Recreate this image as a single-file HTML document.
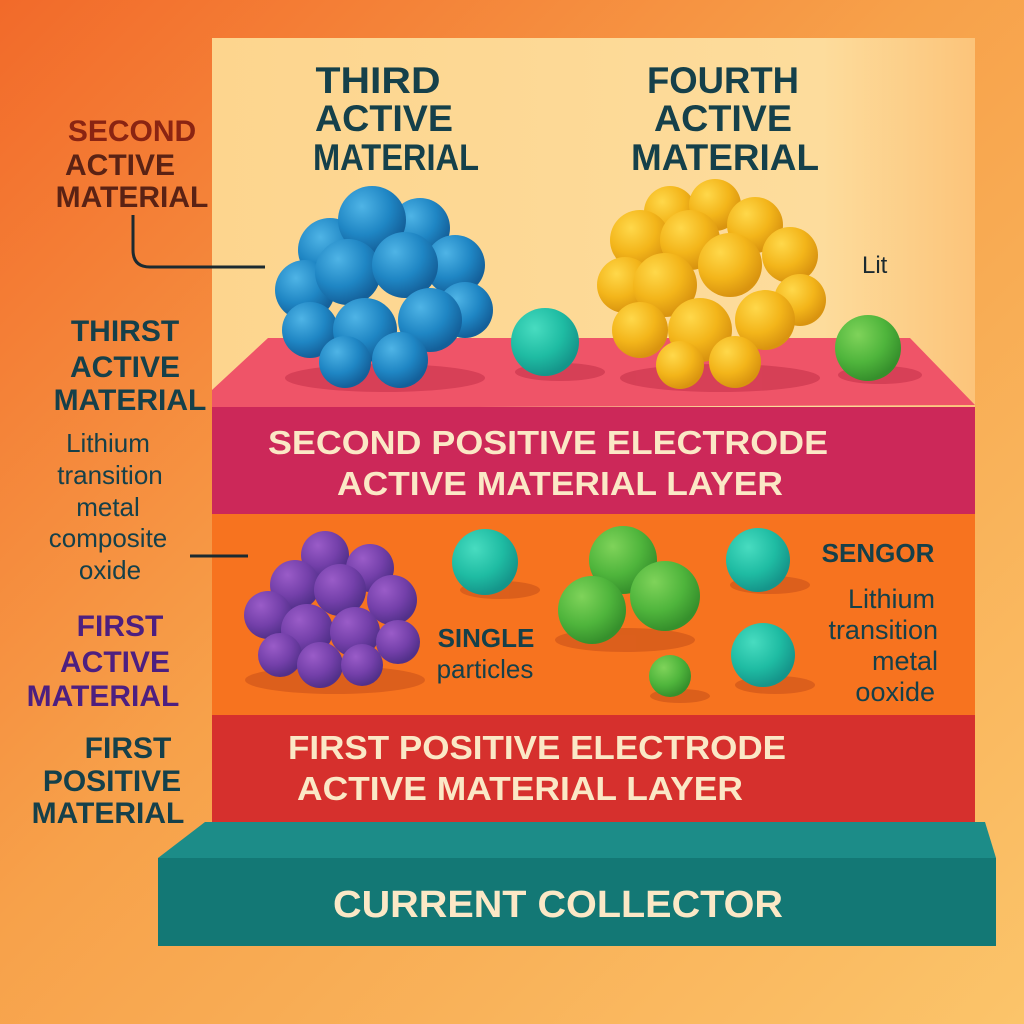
<!DOCTYPE html>
<html><head><meta charset="utf-8"><style>html,body{margin:0;padding:0;width:1024px;height:1024px;overflow:hidden}</style></head>
<body>
<svg width="1024" height="1024" viewBox="0 0 1024 1024" xmlns="http://www.w3.org/2000/svg" font-family="Liberation Sans, sans-serif">
<defs>
<linearGradient id="bg" x1="0" y1="0" x2="1" y2="1">
<stop offset="0" stop-color="#f26a2a"/><stop offset="0.45" stop-color="#f7a14a"/><stop offset="1" stop-color="#fbc46a"/>
</linearGradient>
<linearGradient id="panel" x1="0" y1="0" x2="1" y2="0">
<stop offset="0" stop-color="#fdd58e"/><stop offset="0.8" stop-color="#fddc9c"/><stop offset="1" stop-color="#fcc47a"/>
</linearGradient>
<radialGradient id="gb" cx="0.35" cy="0.3" r="0.7"><stop offset="0" stop-color="#4fb4e6"/><stop offset="0.6" stop-color="#1f86c4"/><stop offset="1" stop-color="#14609a"/></radialGradient>
<radialGradient id="gy" cx="0.35" cy="0.3" r="0.7"><stop offset="0" stop-color="#ffd84a"/><stop offset="0.6" stop-color="#f3b51a"/><stop offset="1" stop-color="#d99410"/></radialGradient>
<radialGradient id="gp" cx="0.35" cy="0.3" r="0.7"><stop offset="0" stop-color="#9a5cc8"/><stop offset="0.6" stop-color="#7440aa"/><stop offset="1" stop-color="#52308a"/></radialGradient>
<radialGradient id="gt" cx="0.35" cy="0.3" r="0.7"><stop offset="0" stop-color="#48dcc0"/><stop offset="0.6" stop-color="#1fbca3"/><stop offset="1" stop-color="#15958a"/></radialGradient>
<radialGradient id="gg" cx="0.35" cy="0.3" r="0.7"><stop offset="0" stop-color="#7fd35a"/><stop offset="0.6" stop-color="#4fb53c"/><stop offset="1" stop-color="#36902c"/></radialGradient>
</defs>
<rect width="1024" height="1024" fill="url(#bg)"/>
<rect x="212" y="38" width="763" height="370" fill="url(#panel)"/>
<polygon points="268,338 910,338 975,405 212,408 212,390" fill="#ef5468"/>
<rect x="212" y="407" width="763" height="107" fill="#cc2859"/>
<rect x="212" y="514" width="763" height="201" fill="#f7731f"/>
<rect x="212" y="715" width="763" height="107" fill="#d6302d"/>
<polygon points="205,822 985,822 996,858 158,858" fill="#1c8c88"/>
<rect x="158" y="858" width="838" height="88" fill="#137875"/>

<g fill="#c23048" opacity="0.55">
<ellipse cx="385" cy="378" rx="100" ry="14"/><ellipse cx="560" cy="372" rx="45" ry="9"/>
<ellipse cx="720" cy="378" rx="100" ry="14"/><ellipse cx="880" cy="375" rx="42" ry="9"/>
</g>
<g fill="#c9521a" opacity="0.6">
<ellipse cx="335" cy="680" rx="90" ry="14"/><ellipse cx="500" cy="590" rx="40" ry="9"/>
<ellipse cx="625" cy="640" rx="70" ry="12"/><ellipse cx="770" cy="585" rx="40" ry="9"/>
<ellipse cx="775" cy="685" rx="40" ry="9"/><ellipse cx="680" cy="696" rx="30" ry="7"/>
</g>

<g fill="url(#gb)">
<circle cx="330" cy="250" r="32"/><circle cx="420" cy="228" r="30"/><circle cx="372" cy="220" r="34"/>
<circle cx="455" cy="265" r="30"/><circle cx="305" cy="290" r="30"/><circle cx="465" cy="310" r="28"/>
<circle cx="348" cy="272" r="33"/><circle cx="405" cy="265" r="33"/><circle cx="310" cy="330" r="28"/>
<circle cx="430" cy="320" r="32"/><circle cx="365" cy="330" r="32"/><circle cx="400" cy="360" r="28"/><circle cx="345" cy="362" r="26"/>
</g>
<g fill="url(#gy)">
<circle cx="670" cy="212" r="26"/><circle cx="715" cy="205" r="26"/><circle cx="755" cy="225" r="28"/>
<circle cx="640" cy="240" r="30"/><circle cx="790" cy="255" r="28"/><circle cx="625" cy="285" r="28"/>
<circle cx="690" cy="240" r="30"/><circle cx="730" cy="265" r="32"/><circle cx="665" cy="285" r="32"/>
<circle cx="800" cy="300" r="26"/><circle cx="640" cy="330" r="28"/><circle cx="765" cy="320" r="30"/>
<circle cx="700" cy="330" r="32"/><circle cx="680" cy="365" r="24"/><circle cx="735" cy="362" r="26"/>
</g>
<g fill="url(#gp)">
<circle cx="325" cy="555" r="24"/><circle cx="370" cy="568" r="24"/><circle cx="295" cy="585" r="25"/>
<circle cx="340" cy="590" r="26"/><circle cx="392" cy="600" r="25"/><circle cx="268" cy="615" r="24"/>
<circle cx="307" cy="630" r="26"/><circle cx="355" cy="632" r="25"/><circle cx="398" cy="642" r="22"/>
<circle cx="280" cy="655" r="22"/><circle cx="320" cy="665" r="23"/><circle cx="362" cy="665" r="21"/>
</g>
<circle cx="545" cy="342" r="34" fill="url(#gt)"/>
<circle cx="868" cy="348" r="33" fill="url(#gg)"/>
<circle cx="485" cy="562" r="33" fill="url(#gt)"/>
<circle cx="623" cy="560" r="34" fill="url(#gg)"/>
<circle cx="665" cy="596" r="35" fill="url(#gg)"/>
<circle cx="592" cy="610" r="34" fill="url(#gg)"/>
<circle cx="670" cy="676" r="21" fill="url(#gg)"/>
<circle cx="758" cy="560" r="32" fill="url(#gt)"/>
<circle cx="763" cy="655" r="32" fill="url(#gt)"/>

<path d="M133,215 L133,250 Q133,267 150,267 L265,267" fill="none" stroke="#1b2a30" stroke-width="3"/>
<line x1="190" y1="556" x2="248" y2="556" stroke="#1b2a30" stroke-width="3"/>

<g font-weight="bold" font-size="37" fill="#15404a" text-anchor="middle">
<text x="378" y="93" textLength="125" lengthAdjust="spacingAndGlyphs">THIRD</text>
<text x="384" y="131" textLength="138" lengthAdjust="spacingAndGlyphs">ACTIVE</text>
<text x="396" y="170" textLength="166" lengthAdjust="spacingAndGlyphs">MATERIAL</text>
<text x="723" y="93" textLength="152" lengthAdjust="spacingAndGlyphs">FOURTH</text>
<text x="723" y="131" textLength="138" lengthAdjust="spacingAndGlyphs">ACTIVE</text>
<text x="725" y="170" textLength="188" lengthAdjust="spacingAndGlyphs">MATERIAL</text>
</g>
<text x="862" y="273" font-size="24" fill="#1b2a30">Lit</text>

<g font-weight="bold" font-size="30" text-anchor="middle">
<text x="132" y="141" fill="#8a2412">SECOND</text>
<text x="120" y="175" fill="#5a2214">ACTIVE</text>
<text x="132" y="207" fill="#5a2214">MATERIAL</text>
<text x="125" y="341" fill="#15404a">THIRST</text>
<text x="125" y="377" fill="#15404a">ACTIVE</text>
<text x="130" y="410" fill="#15404a">MATERIAL</text>
<text x="120" y="636" fill="#4d1f80">FIRST</text>
<text x="115" y="672" fill="#4d1f80">ACTIVE</text>
<text x="103" y="706" fill="#4d1f80">MATERIAL</text>
<text x="128" y="758" fill="#15404a">FIRST</text>
<text x="112" y="791" fill="#15404a">POSITIVE</text>
<text x="108" y="823" fill="#15404a">MATERIAL</text>
</g>
<g font-size="26" fill="#15404a" text-anchor="middle">
<text x="108" y="452">Lithium</text><text x="110" y="484">transition</text><text x="108" y="516">metal</text>
<text x="108" y="547">composite</text><text x="110" y="579">oxide</text>
</g>

<g font-weight="bold" font-size="33" fill="#fbe8c6" text-anchor="middle">
<text x="548" y="454" textLength="560" lengthAdjust="spacingAndGlyphs">SECOND POSITIVE  ELECTRODE</text>
<text x="560" y="495" textLength="446" lengthAdjust="spacingAndGlyphs">ACTIVE MATERIAL LAYER</text>
<text x="537" y="759" textLength="498" lengthAdjust="spacingAndGlyphs">FIRST POSITIVE ELECTRODE</text>
<text x="520" y="800" textLength="446" lengthAdjust="spacingAndGlyphs">ACTIVE MATERIAL LAYER</text>
<text x="558" y="917" font-size="38" textLength="450" lengthAdjust="spacingAndGlyphs">CURRENT COLLECTOR</text>
</g>

<text x="486" y="647" font-weight="bold" font-size="26" fill="#15404a" text-anchor="middle">SINGLE</text>
<text x="485" y="678" font-size="26" fill="#15404a" text-anchor="middle">particles</text>
<text x="878" y="562" font-weight="bold" font-size="26" fill="#15404a" text-anchor="middle">SENGOR</text>
<g font-size="27" fill="#15404a" text-anchor="end">
<text x="935" y="608">Lithium</text><text x="938" y="639">transition</text>
<text x="938" y="670">metal</text><text x="935" y="701">ooxide</text>
</g>
</svg>
</body></html>
